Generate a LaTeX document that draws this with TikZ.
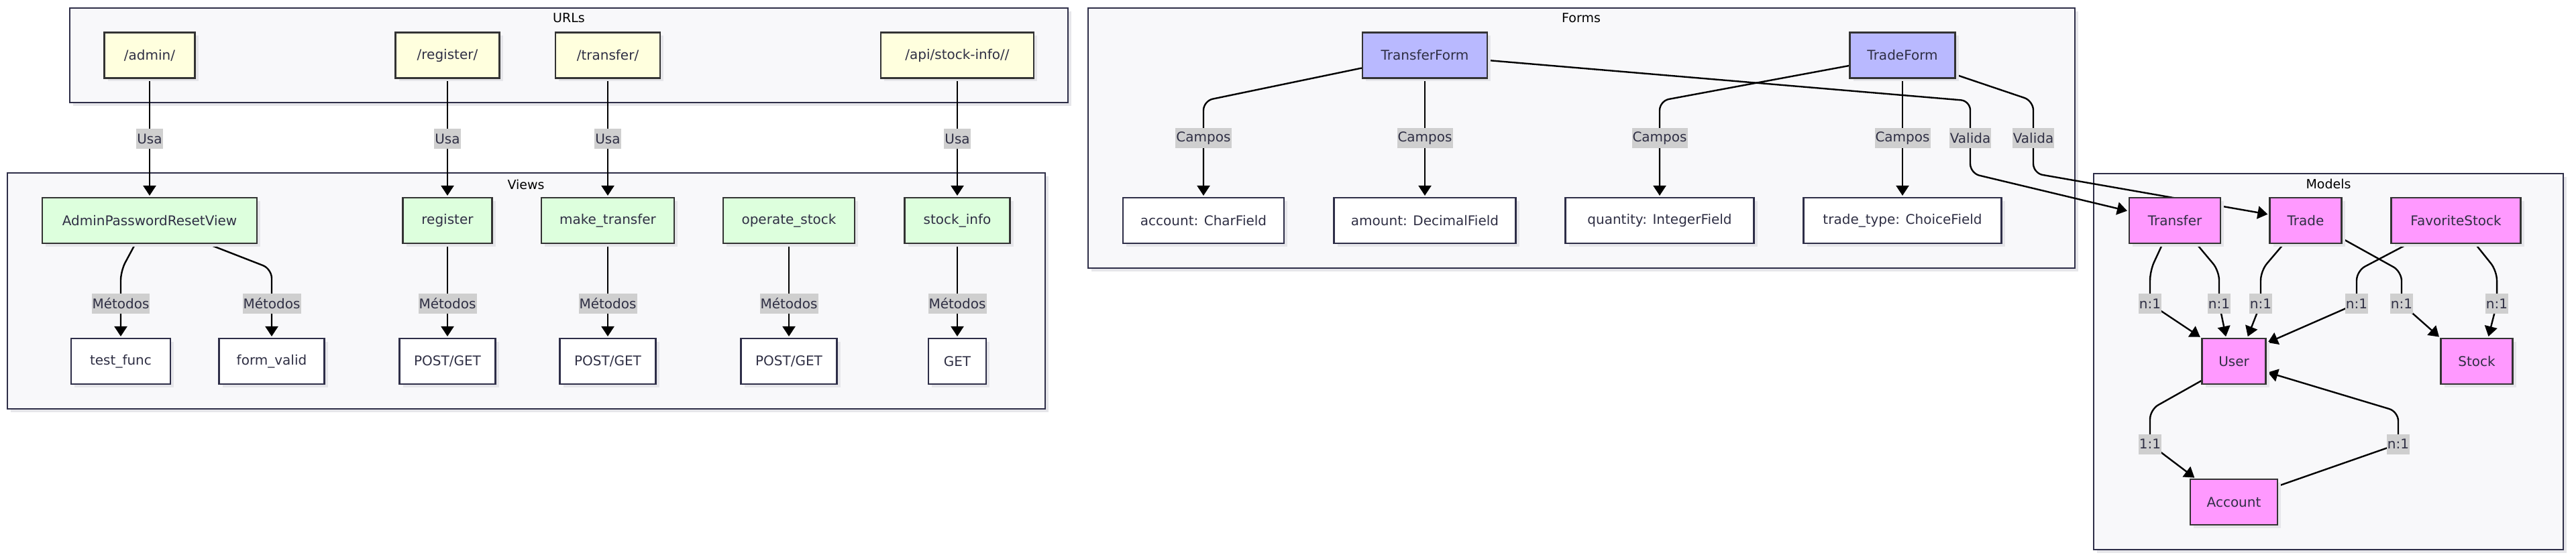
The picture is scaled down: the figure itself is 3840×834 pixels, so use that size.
\documentclass[tikz,border=0pt]{standalone}
\usepackage{fontspec}
\setmainfont{DejaVu Sans}
\usetikzlibrary{arrows.meta,shadows,calc}

\definecolor{urlfill}{HTML}{FFFFDE}
\definecolor{viewfill}{HTML}{DDFFDD}
\definecolor{formfill}{HTML}{B9B9FF}
\definecolor{modelfill}{HTML}{FF99FF}
\definecolor{grpfill}{HTML}{F8F8FA}
\definecolor{grpline}{HTML}{2E2E48}
\definecolor{nodeline}{HTML}{333333}
\definecolor{lblfill}{HTML}{CFCFCF}
\definecolor{textc}{HTML}{2F2F44}
\definecolor{shadowc}{HTML}{E6E6EA}

\pgfdeclarelayer{groups}
\pgfdeclarelayer{edges}
\pgfsetlayers{groups,edges,main}

\tikzset{
  shade/.style={drop shadow={shadow xshift=5pt,shadow yshift=-5pt,fill=shadowc,opacity=1}},
  nodebox/.style={draw=nodeline, line width=2.2pt, minimum height=68pt, inner sep=0pt,
    text=textc, font=\fontsize{20pt}{24pt}\selectfont, shade},
  urlnode/.style={nodebox, fill=urlfill},
  viewnode/.style={nodebox, fill=viewfill},
  formnode/.style={nodebox, fill=formfill},
  modelnode/.style={nodebox, fill=modelfill},
  plainnode/.style={nodebox, draw=grpline, fill=white},
  grp/.style={draw=grpline, fill=grpfill, line width=2.2pt, shade},
  grplabel/.style={text=black, font=\fontsize{19pt}{22pt}\selectfont, inner sep=0pt},
  lbl/.style={fill=lblfill, text=textc, inner xsep=1pt, inner ysep=0pt, minimum height=30pt,
    font=\fontsize{20pt}{24pt}\selectfont},
  link/.style={draw=black, line width=2.4pt, rounded corners=14pt, shorten >=2pt,
    -{Triangle[length=15pt,width=19pt]}}
}

\begin{document}
\begin{tikzpicture}[x=1pt,y=-1pt]
\useasboundingbox (0,0) rectangle (3840,834);

\begin{pgfonlayer}{groups}
\draw[grp] (104,12) rectangle (1592,153);
\draw[grp] (11,258) rectangle (1558,610);
\draw[grp] (1622,12) rectangle (3093,400);
\draw[grp] (3121,259) rectangle (3821,820);
\end{pgfonlayer}

\node[grplabel] (urlstitle) at (848,27) {URLs};
\node[grplabel] (viewstitle) at (784,275) {Views};
\node[grplabel] (formstitle) at (2357,27) {Forms};
\node[grplabel] (modelstitle) at (3471,274) {Models};

% urls
\node[urlnode, minimum width=135pt] (urladmin) at (223,82.5) {/admin/};
\node[urlnode, minimum width=155pt] (urlregister) at (667,82.5) {/register/};
\node[urlnode, minimum width=156pt] (urltransfer) at (906,82.5) {/transfer/};
\node[urlnode, minimum width=228pt] (urlapi) at (1427,82.5) {/api/stock-info//};

% views
\node[viewnode, minimum width=320pt] (apview) at (223,329) {AdminPasswordResetView};
\node[viewnode, minimum width=133pt] (register) at (667,329) {register};
\node[viewnode, minimum width=198pt] (maketransfer) at (906,329) {make\_transfer};
\node[viewnode, minimum width=196pt] (operatestock) at (1176,329) {operate\_stock};
\node[viewnode, minimum width=157pt] (stockinfo) at (1427,329) {stock\_info};

\node[plainnode, minimum width=148pt] (testfunc) at (180,539) {test\_func};
\node[plainnode, minimum width=157pt] (formvalid) at (405,539) {form\_valid};
\node[plainnode, minimum width=143pt] (regmeth) at (667,539) {POST/GET};
\node[plainnode, minimum width=143pt] (trfmeth) at (906,539) {POST/GET};
\node[plainnode, minimum width=143pt] (opmeth) at (1176,539) {POST/GET};
\node[plainnode, minimum width=86pt] (infometh) at (1427,539) {GET};

% forms
\node[formnode, minimum width=186pt] (trfform) at (2124,82.5) {TransferForm};
\node[formnode, minimum width=157pt] (trdform) at (2836,82.5) {TradeForm};
\node[plainnode, minimum width=240pt] (fldaccount) at (1794,329) {account: CharField};
\node[plainnode, minimum width=271pt] (fldamount) at (2124,329) {amount: DecimalField};
\node[plainnode, minimum width=281pt] (fldquantity) at (2474,329) {quantity: IntegerField};
\node[plainnode, minimum width=295pt] (fldtype) at (2836,329) {trade\_type: ChoiceField};

% models
\node[modelnode, minimum width=136pt] (transfer) at (3242,329) {Transfer};
\node[modelnode, minimum width=107pt] (trade) at (3437,329) {Trade};
\node[modelnode, minimum width=193pt] (favstock) at (3661,329) {FavoriteStock};
\node[modelnode, minimum width=95pt] (user) at (3330,539) {User};
\node[modelnode, minimum width=107pt] (stock) at (3692,539) {Stock};
\node[modelnode, minimum width=130pt] (account) at (3330,749) {Account};

% edge labels
\node[lbl] (usa1) at (223,207) {Usa};
\node[lbl] (usa2) at (667,207) {Usa};
\node[lbl] (usa3) at (906,207) {Usa};
\node[lbl] (usa4) at (1427,207) {Usa};
\node[lbl] (met1) at (180,453) {Métodos};
\node[lbl] (met2) at (405,453) {Métodos};
\node[lbl] (met3) at (667,453) {Métodos};
\node[lbl] (met4) at (906,453) {Métodos};
\node[lbl] (met5) at (1176,453) {Métodos};
\node[lbl] (met6) at (1427,453) {Métodos};
\node[lbl] (cam1) at (1794,206.5) {Campos};
\node[lbl] (cam2) at (2124,206.5) {Campos};
\node[lbl] (cam3) at (2474,206.5) {Campos};
\node[lbl] (cam4) at (2836,206.5) {Campos};
\node[lbl] (val1) at (2937,206.5) {Valida};
\node[lbl] (val2) at (3031,206.5) {Valida};
\node[lbl] (rel1) at (3205,453) {n:1};
\node[lbl] (rel2) at (3308,453) {n:1};
\node[lbl] (rel3) at (3370,453) {n:1};
\node[lbl] (rel4) at (3513,453) {n:1};
\node[lbl] (rel5) at (3580,453) {n:1};
\node[lbl] (rel6) at (3722,453) {n:1};
\node[lbl] (rel7) at (3205,662.5) {1:1};
\node[lbl] (rel8) at (3575,662.5) {n:1};

\begin{pgfonlayer}{edges}
\draw[link] (urladmin) -- (apview);
\draw[link] (urlregister) -- (register);
\draw[link] (urltransfer) -- (maketransfer);
\draw[link] (urlapi) -- (stockinfo);

\draw[link] ([xshift=-21.5pt]apview.south) -- ($(apview.south -| met1)+(0,40)$) -- (met1.center) -- (testfunc.north);
\draw[link] ([xshift=87pt]apview.south) -- ($(apview.south -| met2)+(0,37)$) -- (met2.center) -- (formvalid.north);
\draw[link] (register) -- (regmeth);
\draw[link] (maketransfer) -- (trfmeth);
\draw[link] (operatestock) -- (opmeth);
\draw[link] (stockinfo) -- (infometh);

\draw[link] ([yshift=-19pt]trfform.west) -- ($(trfform.west -| cam1)+(0,68)$) -- (cam1.center) -- (fldaccount.north);
\draw[link] (trfform) -- (fldamount);
\draw[link] ([yshift=-15.5pt]trdform.west) -- ($(trdform.west -| cam3)+(0,68)$) -- (cam3.center) -- (fldquantity.north);
\draw[link] (trdform) -- (fldtype);
\draw[link] ([yshift=-7.5pt]trfform.east) -- ($(trfform.east -| val1)+(0,68)$) -- ($(val1)+(0,52)$) -- ([yshift=14pt]transfer.west);
\draw[link] ([yshift=-29pt]trdform.east) -- ($(trdform.east -| val2)+(0,68)$) -- ($(val2)+(0,52)$) -- ([yshift=9pt]trade.west);

\draw[link] ([xshift=-18.5pt]transfer.south) -- ($(transfer.south -| rel1)+(0,40)$) -- (rel1.center) -- (user.north west);
\draw[link] ([xshift=32.5pt]transfer.south) -- ($(transfer.south -| rel2)+(0,40)$) -- (rel2.center) -- ([xshift=-11.5pt]user.north);
\draw[link] ([xshift=-33pt]trade.south) -- ($(trade.south -| rel3)+(0,40)$) -- (rel3.center) -- ([xshift=20pt]user.north);
\draw[link] ([xshift=-72pt]favstock.south) -- ($(favstock.south -| rel4)+(0,40)$) -- (rel4.center) -- ([yshift=-8pt]user.north east);
\draw[link] ([yshift=-27pt]trade.east) -- ($(trade.south -| rel5)+(0,41)$) -- (rel5.center) -- (stock.north west);
\draw[link] ([xshift=29pt]favstock.south) -- ($(favstock.south -| rel6)+(0,40)$) -- (rel6.center) -- ([xshift=17pt]stock.north);
\draw[link] ([yshift=6pt]user.south west) -- ($(user.south -| rel7)+(0,37)$) -- (rel7.center) -- ([xshift=9pt]account.north west);
\draw[link] ([yshift=24pt]account.east) -- (rel8.center) -- ($(user.south -| rel8)+(0,40)$) -- ([yshift=-16pt]user.east);
\end{pgfonlayer}

\end{tikzpicture}
\end{document}
